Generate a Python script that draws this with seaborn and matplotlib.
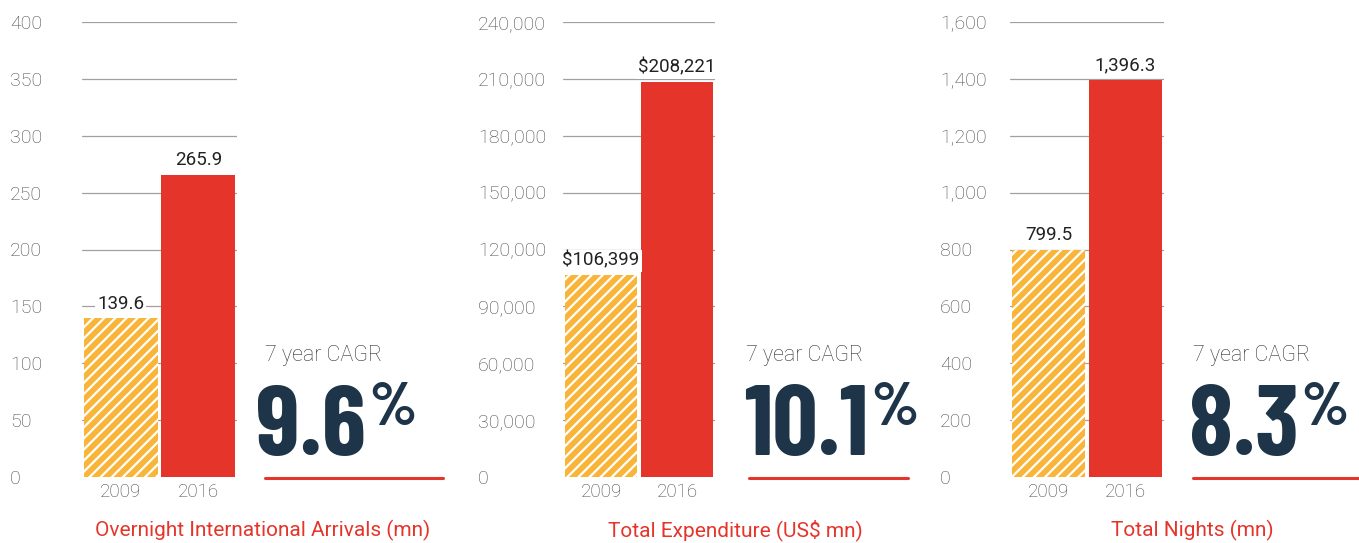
import matplotlib
matplotlib.use("Agg")
import matplotlib.pyplot as plt
import seaborn as sns
import pandas as pd
from matplotlib.lines import Line2D
from matplotlib.ticker import FuncFormatter

sns.set_theme(style="white")
plt.rcParams['font.family'] = ['Roboto', 'DejaVu Sans']
plt.rcParams['hatch.linewidth'] = 1.6

years = ["2009", "2016"]
arrivals = [139.6, 265.9]
expenditure = [106399, 208221]
nights = [799.5, 1396.3]
arrivals_labels = ["139.6", "265.9"]
expenditure_labels = ["$106,399", "$208,221"]
nights_labels = ["799.5", "1,396.3"]
cagr = ["9.6", "10.1", "8.3"]
titles = ["Overnight International Arrivals (mn)", "Total Expenditure (US\\$ mn)", "Total Nights (mn)"]
yticks = [list(range(0, 401, 50)), list(range(0, 240001, 30000)), list(range(0, 1601, 200))]

RED = "#E5352B"
ORANGE = "#F9B53A"
NAVY = "#1E3448"
GRAY = "#4a4a4a"
COND = ["Barlow Condensed", "Fira Sans Extra Condensed", "DejaVu Sans"]

W, H = 1359, 543
fig = plt.figure(figsize=(W / 100, H / 100), dpi=100)

def px(x0, y0, x1, y1):
    return [x0 / W, 1 - y1 / H, (x1 - x0) / W, (y1 - y0) / H]

panels = [
    dict(ax=(82, 22, 237, 477), lab_x=10, vals=arrivals, labs=arrivals_labels,
         cagr_x=265, num_x=256, line=(265, 443), title_x=263),
    dict(ax=(563, 22, 715, 477), lab_x=478, vals=expenditure, labs=expenditure_labels,
         cagr_x=746, num_x=744, line=(749, 908), title_x=735),
    dict(ax=(1010, 22, 1164, 477), lab_x=940, vals=nights, labs=nights_labels,
         cagr_x=1193, num_x=1189, line=(1193, 1359), title_x=1192),
]

for i, p in enumerate(panels):
    x0, y0, x1, y1 = p["ax"]
    ax = fig.add_axes(px(x0, y0, x1, y1))
    df = pd.DataFrame({"year": years, "value": p["vals"]})
    sns.barplot(data=df, x="year", y="value", hue="year", palette=[ORANGE, RED],
                width=0.95, legend=False, ax=ax, saturation=1, zorder=2)
    bars = ax.patches
    bars[0].set_hatch("///")
    bars[0].set_edgecolor("white")
    bars[0].set_linewidth(0)
    bars[1].set_linewidth(0)
    ax.set_xlim(-0.5, 1.5)
    ax.set_ylim(yticks[i][0], yticks[i][-1])
    ax.set_yticks(yticks[i])
    ax.yaxis.set_major_formatter(FuncFormatter(lambda v, pos: f"{v:,.0f}"))
    for sp in ax.spines.values():
        sp.set_visible(False)
    ax.set_xlabel("")
    ax.set_ylabel("")
    ax.grid(False)
    for t in yticks[i][1:]:
        ax.axhline(t, color="#a0a0a0", lw=0.9, zorder=0)
    pad_pt = (x0 - p["lab_x"]) * 0.72
    ax.tick_params(axis="y", length=0, pad=pad_pt, labelsize=14, labelcolor=GRAY)
    for lab in ax.get_yticklabels():
        lab.set_ha("left")
        lab.set_fontweight("light")
    ax.tick_params(axis="x", length=0, pad=4, labelsize=13.5, labelcolor=GRAY)
    for lab in ax.get_xticklabels():
        lab.set_fontweight("light")
    for j, (v, s) in enumerate(zip(p["vals"], p["labs"])):
        ax.annotate(s.replace("$", "\\$"), xy=(j, v), xytext=(0, 4), textcoords="offset points",
                    ha="center", va="bottom", fontsize=13.5, color="#222222", fontweight="normal",
                    bbox=dict(boxstyle="square,pad=0.1", fc="white", ec="none"), zorder=5)

    fig.text(p["cagr_x"] / W, 1 - 355 / H, "7 year CAGR", fontsize=15.5, color="#333333",
             fontweight="light", va="center", ha="left")
    num = fig.text(p["num_x"] / W, 1 - 455 / H, cagr[i], fontsize=72,
                   family=COND, fontweight="bold",
                   color=NAVY, va="baseline", ha="left")
    plt.annotate("%", xy=(1.0, H - 425), xycoords=(num, "figure pixels"), xytext=(2, 0),
                 textcoords="offset points", fontsize=44, family=COND, fontweight="bold",
                 color=NAVY, ha="left", va="baseline", annotation_clip=False)
    lx0, lx1 = p["line"]
    fig.add_artist(Line2D([lx0 / W, lx1 / W], [1 - 478 / H, 1 - 478 / H], color=RED, lw=2.2))
    fig.text(p["title_x"] / W, 1 - 530 / H, titles[i], fontsize=15, color=RED,
             fontweight="normal", ha="center", va="center")

fig.savefig("out.png", dpi=100, facecolor="white")
